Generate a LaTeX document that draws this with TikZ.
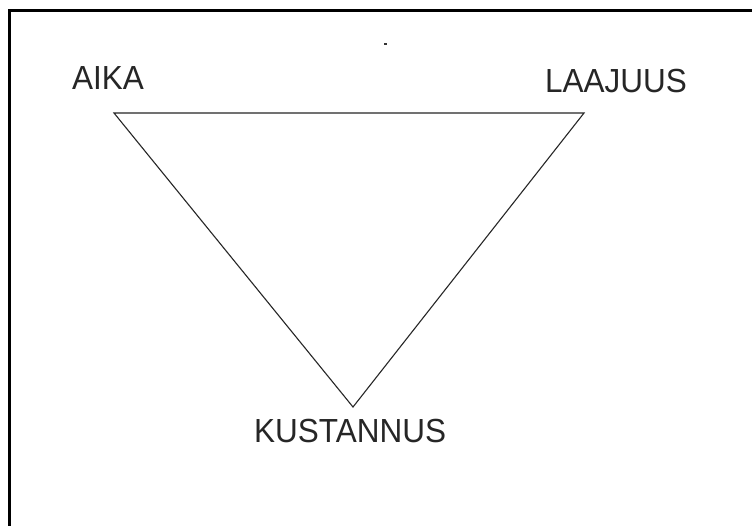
\documentclass[tikz,border=0pt]{standalone}
\usepackage{fontspec}
\setmainfont{Liberation Sans}
\tikzset{
  lbl/.style={anchor=base west, inner sep=0pt, text=black!85, yscale=1.06, font=\fontsize{31.5}{36}\selectfont},
  edge/.style={line width=1.1pt, black!85},
  frame/.style={line width=2.6pt}
}
\begin{document}
\begin{tikzpicture}[x=1pt,y=-1pt]
\useasboundingbox (0,0) rectangle (752,526);
\fill[white] (0,0) rectangle (752,526);
% frame (left and top)
\coordinate (fb) at (9.5,527);
\coordinate (fc) at (9.5,10.5);
\coordinate (fr) at (753,10.5);
\draw[frame] (fb) -- (fc) -- (fr);
% small dot
\fill[black!80] (384,43) rectangle (386.5,45.5);
% triangle corners
\coordinate (A) at (114,113);
\coordinate (L) at (584,113);
\coordinate (K) at (353,407);
\draw[edge] (A) -- (L) -- (K) -- cycle;
% labels
\node[lbl] (aika) at (72,90) {AIKA};
\node[lbl] (laajuus) at (545,93) {LAAJUUS};
\node[lbl] (kust) at (254,442) {KUSTANNUS};
\end{tikzpicture}
\end{document}
